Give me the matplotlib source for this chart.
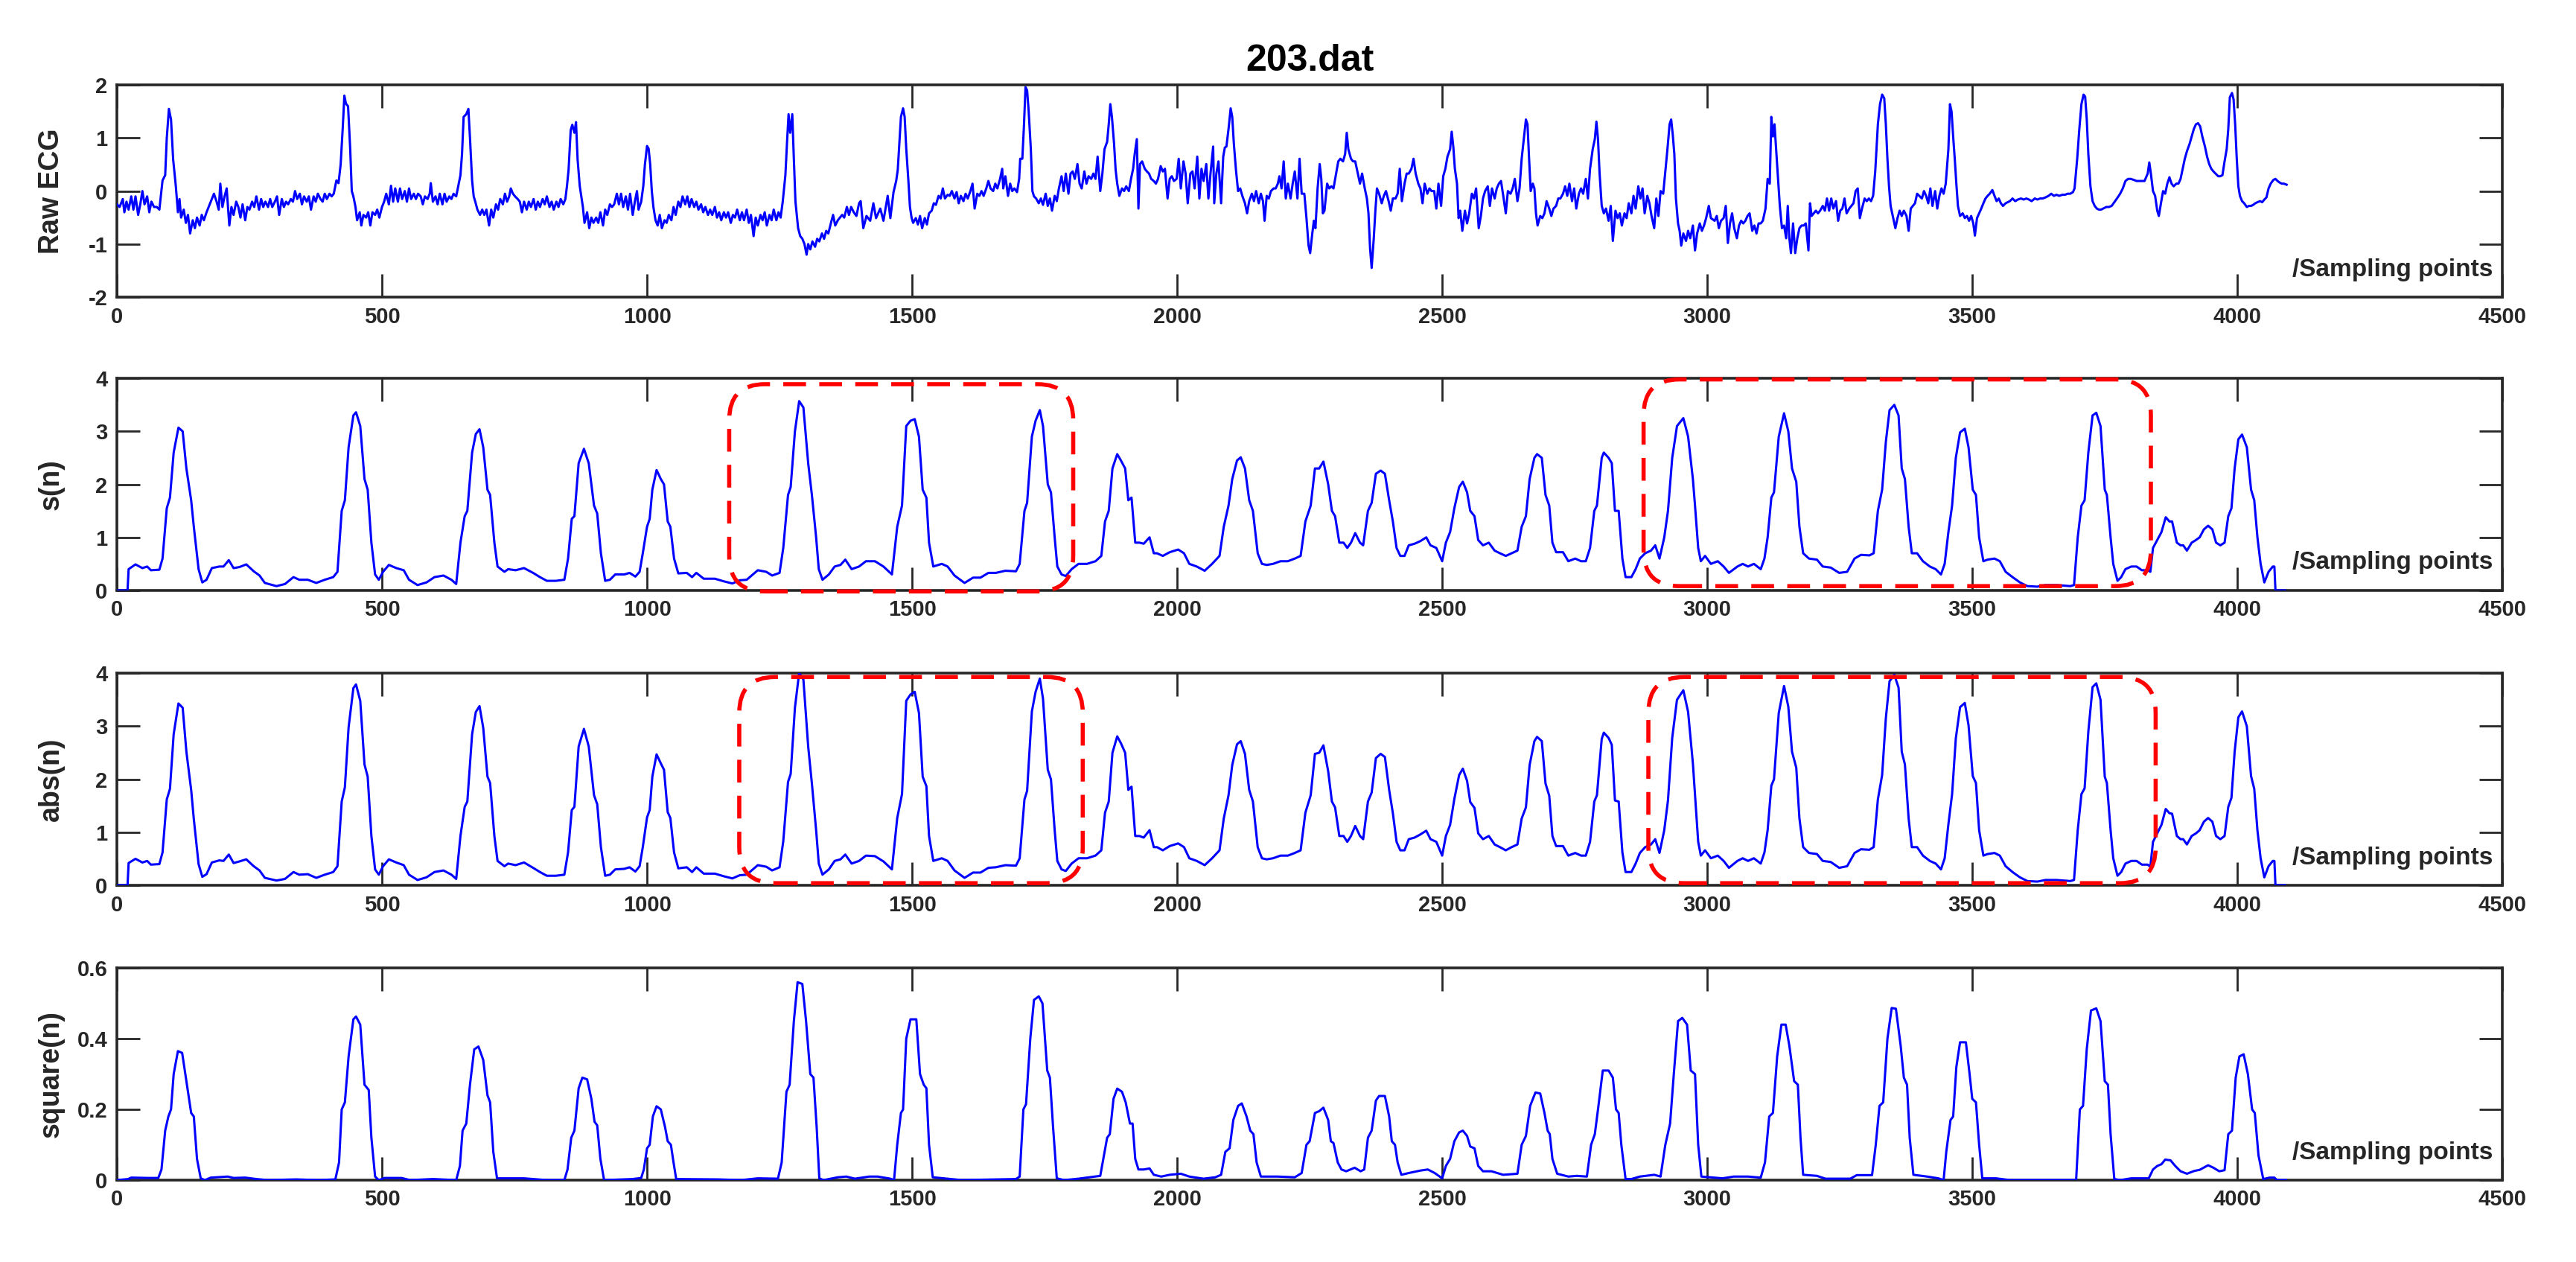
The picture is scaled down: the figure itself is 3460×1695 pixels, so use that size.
import numpy as np
import matplotlib
matplotlib.use('Agg')
import matplotlib.pyplot as plt
from matplotlib.patches import FancyBboxPatch

plt.rcParams['font.family'] = ['Liberation Sans', 'DejaVu Sans']
plt.rcParams['font.weight'] = 'bold'
plt.rcParams['axes.unicode_minus'] = False

# ---- data: (sample index, value) ----
raw_ecg = [
    (0, -.25), (5, -.30), (11, -.15), (14, -.40), (18, -.20), (22, -.35), (27, -.10), (31, -.35), (35, -.10), (40, -.45),
    (44, -.25), (48, 0.0), (52, -.25), (57, -.10), (61, -.40), (65, -.20), (70, -.30), (75, -.30), (80, -.35), (86, .20),
    (91, .30), (94, 1.0), (98, 1.55), (102, 1.35), (106, .60), (111, .10), (115, -.40), (118, -.15), (121, -.50), (126, -.35),
    (130, -.60), (134, -.45), (138, -.80), (143, -.55), (147, -.70), (151, -.50), (156, -.65), (160, -.45), (164, -.55), (169, -.40),
    (173, -.30), (177, -.20), (183, -.05), (188, -.20), (192, -.35), (195, .14), (199, -.30), (203, -.10), (207, .05), (212, -.65),
    (216, -.30), (220, -.45), (225, -.20), (229, -.30), (233, -.50), (237, -.25), (242, -.55), (246, -.30), (250, -.35), (255, -.20),
    (259, -.30), (263, -.10), (268, -.35), (272, -.15), (276, -.30), (280, -.20), (285, -.30), (289, -.15), (293, -.30), (298, -.20),
    (302, -.10), (306, -.45), (311, -.15), (315, -.30), (319, -.20), (323, -.25), (328, -.15), (332, -.20), (336, 0.0), (340, -.15),
    (345, -.05), (349, -.25), (353, -.10), (358, -.20), (362, -.10), (366, -.35), (371, -.10), (375, -.20), (379, -.05), (384, -.15),
    (388, -.20), (392, -.05), (396, -.15), (401, -.05), (405, -.10), (409, -.05), (414, .20), (418, .15), (422, .50), (426, 1.2),
    (429, 1.80), (432, 1.65), (436, 1.60), (440, .80), (443, 0.0), (446, -.10), (450, -.30), (453, -.55), (458, -.40), (461, -.65),
    (465, -.45), (470, -.50), (474, -.40), (478, -.65), (482, -.40), (487, -.45), (491, -.35), (495, -.50), (500, -.30), (504, -.20),
    (508, -.05), (513, -.25), (517, .10), (521, -.20), (525, .05), (530, -.20), (534, .05), (538, -.15), (543, 0.0), (547, -.20),
    (551, .05), (555, -.15), (560, -.05), (564, -.15), (568, -.05), (573, -.10), (577, -.25), (581, -.10), (586, -.15), (590, -.05),
    (592, .15), (596, -.20), (601, -.10), (605, -.25), (609, -.05), (614, -.25), (618, -.05), (622, -.20), (627, -.10), (631, -.15),
    (635, -.05), (640, -.10), (644, .10), (648, .30), (651, .70), (654, 1.40), (659, 1.45), (663, 1.55), (666, 1.0), (670, .20),
    (673, -.10), (676, -.20), (680, -.35), (685, -.45), (689, -.35), (693, -.45), (697, -.35), (702, -.65), (706, -.35), (710, -.50),
    (715, -.25), (719, -.35), (723, -.15), (728, -.25), (732, -.05), (736, -.20), (740, -.10), (743, .05), (747, -.05), (751, -.10),
    (756, -.15), (760, -.20), (764, -.40), (768, -.20), (773, -.35), (777, -.20), (781, -.30), (786, -.15), (790, -.35), (794, -.20),
    (798, -.30), (803, -.15), (807, -.25), (811, -.10), (816, -.30), (820, -.20), (824, -.35), (829, -.20), (833, -.30), (837, -.15),
    (842, -.25), (846, -.15), (849, .10), (852, .40), (856, 1.15), (859, 1.25), (863, 1.10), (866, 1.30), (869, .60), (873, .10),
    (876, -.10), (879, -.30), (882, -.60), (887, -.40), (891, -.70), (895, -.50), (899, -.60), (904, -.50), (908, -.60), (912, -.40),
    (917, -.65), (921, -.35), (925, -.45), (930, -.25), (934, -.30), (938, -.25), (943, -.05), (947, -.25), (951, -.05), (955, -.30),
    (960, -.10), (964, -.35), (968, -.05), (973, -.45), (977, -.20), (981, 0.0), (984, -.35), (989, -.20), (993, .10), (996, .50),
    (1000, .85), (1003, .80), (1006, .50), (1009, 0.0), (1012, -.30), (1016, -.55), (1020, -.65), (1024, -.45), (1028, -.70), (1033, -.55),
    (1037, -.60), (1041, -.45), (1046, -.55), (1050, -.30), (1054, -.45), (1059, -.20), (1063, -.30), (1067, -.10), (1072, -.25), (1076, -.10),
    (1080, -.30), (1084, -.15), (1089, -.30), (1093, -.20), (1097, -.35), (1102, -.25), (1106, -.40), (1110, -.30), (1115, -.45), (1119, -.35),
    (1123, -.45), (1128, -.30), (1132, -.50), (1136, -.40), (1140, -.55), (1145, -.40), (1149, -.50), (1153, -.40), (1158, -.60), (1162, -.45),
    (1166, -.50), (1170, -.35), (1175, -.55), (1179, -.40), (1183, -.55), (1188, -.35), (1192, -.60), (1196, -.45), (1201, -.85), (1205, -.50),
    (1209, -.65), (1214, -.45), (1218, -.55), (1222, -.40), (1226, -.65), (1231, -.45), (1235, -.55), (1239, -.35), (1244, -.55), (1248, -.40),
    (1252, -.50), (1256, -.20), (1261, .30), (1264, .90), (1267, 1.45), (1270, 1.10), (1274, 1.45), (1277, .60), (1280, -.20), (1285, -.70),
    (1289, -.85), (1293, -.90), (1297, -1.0), (1301, -1.20), (1304, -1.0), (1308, -1.10), (1312, -.95), (1317, -1.05), (1321, -.90), (1325, -.95),
    (1330, -.80), (1334, -.90), (1338, -.75), (1342, -.80), (1347, -.60), (1351, -.45), (1355, -.65), (1360, -.55), (1364, -.50), (1368, -.45),
    (1372, -.50), (1377, -.30), (1381, -.45), (1385, -.30), (1390, -.40), (1395, -.47), (1400, -.23), (1403, -.19), (1408, -.70), (1414, -.47),
    (1421, -.56), (1427, -.23), (1432, -.51), (1440, -.33), (1446, -.56), (1454, -.09), (1459, -.51), (1465, -.02), (1470, .19), (1473, .40),
    (1479, 1.40), (1483, 1.56), (1486, 1.40), (1489, .80), (1493, .20), (1496, -.30), (1499, -.50), (1502, -.60), (1507, -.51), (1511, -.63),
    (1515, -.47), (1519, -.70), (1524, -.51), (1528, -.63), (1532, -.42), (1537, -.37), (1541, -.23), (1545, -.26), (1550, -.09), (1554, -.14),
    (1558, .05), (1562, -.14), (1567, -.07), (1571, -.09), (1575, 0.0), (1580, -.14), (1584, -.02), (1588, -.23), (1592, -.09), (1597, -.19),
    (1601, -.05), (1605, -.14), (1610, 0.0), (1614, .14), (1618, -.33), (1623, -.05), (1627, -.09), (1631, 0.0), (1635, -.09), (1640, .05),
    (1644, .19), (1648, .05), (1653, 0.0), (1657, .14), (1661, .05), (1666, .23), (1670, .42), (1672, .05), (1676, .28), (1681, -.09),
    (1685, .14), (1689, 0.0), (1693, .05), (1698, -.02), (1702, .23), (1704, .61), (1708, .61), (1711, 1.22), (1714, 1.96), (1717, 1.90),
    (1720, 1.50), (1724, .80), (1727, 0.0), (1730, -.10), (1734, -.14), (1739, -.23), (1743, -.14), (1747, -.26), (1752, -.05), (1756, -.28),
    (1760, -.14), (1764, -.37), (1769, -.09), (1773, -.19), (1777, .05), (1782, .28), (1786, 0.0), (1790, .33), (1795, -.05), (1799, .33),
    (1803, .37), (1807, .23), (1812, .51), (1816, .14), (1820, .05), (1825, .37), (1829, .14), (1833, .28), (1838, .23), (1842, .33),
    (1846, .23), (1850, .65), (1855, 0.0), (1859, .33), (1863, .79), (1868, .93), (1871, 1.26), (1874, 1.64), (1877, 1.40), (1881, .90),
    (1884, .40), (1887, .14), (1891, -.09), (1896, .05), (1900, 0.0), (1904, .09), (1909, 0.0), (1913, .23), (1917, .42), (1920, .70),
    (1924, .98), (1927, -.33), (1930, .51), (1934, .56), (1939, .42), (1943, .37), (1947, .33), (1951, .23), (1956, .19), (1960, .14),
    (1964, .23), (1969, .47), (1973, .37), (1977, .42), (1982, -.14), (1986, .23), (1990, .28), (1994, .19), (1999, .23), (2003, .61),
    (2007, .05), (2012, .56), (2016, .33), (2020, -.23), (2025, .33), (2029, .37), (2033, .05), (2038, .65), (2042, -.14), (2046, .42),
    (2050, .19), (2055, .51), (2059, -.14), (2063, .33), (2068, .84), (2070, -.23), (2074, .33), (2078, .56), (2083, -.23), (2087, .65),
    (2090, .82), (2093, .84), (2097, 1.17), (2101, 1.56), (2104, 1.40), (2107, .90), (2111, .40), (2115, 0.0), (2119, .05), (2123, -.09),
    (2128, -.23), (2132, -.42), (2136, -.19), (2141, -.05), (2145, -.19), (2149, 0.0), (2154, -.23), (2158, -.05), (2162, -.19), (2165, -.56),
    (2169, -.09), (2173, -.14), (2177, 0.0), (2182, .05), (2186, .05), (2190, .14), (2193, .28), (2197, .05), (2201, .56), (2205, -.14),
    (2209, .14), (2214, -.14), (2218, .14), (2222, .37), (2227, -.14), (2231, .61), (2235, -.05), (2240, -.05), (2244, -.51), (2248, -1.03),
    (2251, -1.17), (2255, -.80), (2258, -.56), (2261, -.70), (2265, .05), (2269, .51), (2272, .23), (2275, -.42), (2278, -.37), (2283, .14),
    (2287, .05), (2291, .09), (2295, .05), (2300, .33), (2304, .56), (2308, .61), (2313, .56), (2317, .70), (2320, 1.10), (2323, .79),
    (2328, .61), (2332, .56), (2336, .56), (2341, .33), (2345, .14), (2349, .33), (2354, .05), (2358, -.14), (2361, -.42), (2364, -1.08),
    (2367, -1.45), (2371, -.89), (2374, -.37), (2377, .05), (2381, -.05), (2386, -.23), (2390, -.09), (2394, 0.0), (2399, -.19), (2403, -.37),
    (2407, -.14), (2412, -.14), (2416, -.05), (2420, .42), (2424, -.19), (2429, .14), (2433, .33), (2437, .33), (2442, .42), (2446, .61),
    (2450, .33), (2455, .14), (2459, .05), (2463, -.23), (2467, .14), (2472, -.05), (2476, .05), (2480, 0.0), (2485, 0.0), (2489, -.33),
    (2493, .14), (2498, -.28), (2502, .28), (2506, .42), (2510, .65), (2515, .79), (2518, 1.12), (2521, .84), (2524, .42), (2528, .14),
    (2531, -.51), (2534, -.37), (2538, -.75), (2543, -.37), (2547, -.61), (2551, -.42), (2556, -.05), (2560, -.14), (2564, .05), (2569, -.70),
    (2573, -.47), (2577, -.14), (2581, 0.0), (2586, .09), (2590, -.28), (2594, .05), (2599, -.14), (2603, .05), (2607, .14), (2611, .19),
    (2616, -.14), (2620, -.42), (2624, 0.0), (2629, -.05), (2633, .05), (2637, .23), (2642, -.19), (2646, .05), (2650, .61), (2654, .98),
    (2658, 1.35), (2661, 1.26), (2664, .61), (2667, 0.0), (2671, .14), (2674, .05), (2677, -.42), (2680, -.65), (2685, -.47), (2689, -.51),
    (2693, -.42), (2697, -.19), (2702, -.33), (2706, -.47), (2710, -.33), (2715, -.28), (2719, -.14), (2723, -.14), (2728, -.05), (2732, .09),
    (2736, -.09), (2740, .14), (2745, -.19), (2749, .05), (2753, -.33), (2758, -.05), (2762, .05), (2766, -.05), (2771, .23), (2775, -.14),
    (2779, .42), (2784, .79), (2788, .98), (2791, 1.31), (2794, .98), (2797, .33), (2801, -.28), (2805, -.42), (2809, -.33), (2814, -.56),
    (2818, -.28), (2822, -.94), (2827, -.37), (2831, -.51), (2835, -.42), (2839, -.65), (2844, -.42), (2848, -.51), (2852, -.23), (2857, -.42),
    (2861, -.09), (2865, -.33), (2870, .09), (2874, -.14), (2878, .05), (2882, -.42), (2887, -.09), (2891, -.23), (2895, -.47), (2900, -.70),
    (2904, -.14), (2908, -.47), (2912, 0.0), (2917, -.05), (2921, .37), (2925, .79), (2929, 1.26), (2932, 1.35), (2935, 1.07), (2938, .70),
    (2941, -.14), (2945, -.61), (2948, -.75), (2951, -1.03), (2955, -.80), (2960, -.94), (2964, -.75), (2968, -.89), (2973, -.65), (2977, -1.12),
    (2981, -.80), (2986, -.61), (2990, -.75), (2994, -.65), (2998, -.51), (3003, -.28), (3007, -.51), (3014, -.56), (3018, -.47), (3022, -.70),
    (3026, -.56), (3031, -.51), (3035, -.28), (3039, -.98), (3043, -.61), (3047, -.42), (3051, -.70), (3056, -.89), (3060, -.65), (3064, -.56),
    (3068, -.61), (3072, -.56), (3076, -.47), (3080, -.42), (3085, -.75), (3089, -.65), (3093, -.80), (3097, -.61), (3101, -.61), (3105, -.56),
    (3110, -.33), (3114, .23), (3118, .14), (3121, 1.40), (3124, 1.03), (3127, 1.26), (3130, .79), (3133, .33), (3137, -.28), (3141, -.70),
    (3145, -.65), (3149, -.89), (3152, -.28), (3155, -.89), (3158, -1.17), (3162, -.61), (3166, -1.17), (3170, -.89), (3174, -.70), (3178, -.65),
    (3182, -.65), (3186, -.61), (3191, -1.12), (3194, -.23), (3197, -.47), (3201, -.42), (3205, -.37), (3209, -.42), (3213, -.37), (3218, -.28),
    (3222, -.37), (3226, -.14), (3230, -.37), (3234, -.14), (3238, -.33), (3243, -.19), (3247, -.56), (3251, -.37), (3255, -.33), (3259, -.14),
    (3263, -.42), (3268, -.33), (3272, -.28), (3276, -.23), (3280, 0.0), (3284, .05), (3288, -.51), (3292, -.33), (3297, -.14), (3301, -.19),
    (3305, -.14), (3309, -.19), (3313, -.09), (3317, .37), (3322, 1.26), (3326, 1.64), (3330, 1.82), (3334, 1.75), (3337, 1.26), (3340, .61),
    (3343, .09), (3346, -.28), (3351, -.51), (3355, -.70), (3359, -.51), (3363, -.37), (3367, -.47), (3371, -.37), (3376, -.47), (3380, -.75),
    (3384, -.33), (3388, -.28), (3392, -.23), (3396, -.05), (3400, -.09), (3405, -.14), (3409, 0.0), (3413, -.09), (3417, -.23), (3421, .05),
    (3425, -.28), (3430, 0.0), (3434, -.33), (3438, -.09), (3442, .05), (3446, -.05), (3450, .14), (3455, .79), (3458, 1.64), (3461, 1.50),
    (3464, 1.03), (3467, .61), (3470, .14), (3473, -.28), (3477, -.47), (3482, -.42), (3486, -.51), (3490, -.47), (3494, -.56), (3498, -.47),
    (3502, -.61), (3505, -.84), (3509, -.51), (3513, -.42), (3517, -.33), (3521, -.23), (3525, -.14), (3529, -.09), (3533, -.05), (3538, .02),
    (3542, -.09), (3546, -.19), (3550, -.14), (3554, -.23), (3558, -.28), (3563, -.23), (3567, -.21), (3571, -.19), (3576, -.14), (3581, -.19),
    (3586, -.16), (3592, -.14), (3597, -.16), (3602, -.14), (3607, -.16), (3612, -.19), (3618, -.14), (3623, -.16), (3628, -.14), (3633, -.14),
    (3638, -.12), (3644, -.09), (3649, -.05), (3654, -.09), (3659, -.07), (3664, -.09), (3670, -.07), (3675, -.07), (3680, -.05), (3685, -.05),
    (3690, -.02), (3693, .05), (3698, .61), (3702, 1.17), (3706, 1.64), (3710, 1.82), (3713, 1.78), (3716, 1.36), (3719, .70), (3723, .09),
    (3727, -.19), (3731, -.28), (3735, -.33), (3739, -.35), (3743, -.35), (3747, -.33), (3753, -.30), (3758, -.30), (3763, -.28), (3768, -.21),
    (3773, -.14), (3779, -.05), (3784, .05), (3789, .19), (3794, .23), (3799, .23), (3805, .21), (3810, .19), (3815, .19), (3820, .19),
    (3825, .19), (3831, .33), (3834, .54), (3837, .33), (3841, 0.0), (3845, -.09), (3849, -.37), (3852, -.47), (3856, -.23), (3860, 0.0),
    (3864, -.05), (3868, .14), (3872, .26), (3876, .14), (3880, .09), (3885, .14), (3889, .14), (3893, .23), (3897, .42), (3901, .61),
    (3905, .75), (3910, .89), (3914, 1.03), (3918, 1.17), (3922, 1.26), (3926, 1.28), (3930, 1.22), (3934, 1.03), (3939, .84), (3943, .65),
    (3947, .51), (3951, .42), (3955, .37), (3959, .33), (3964, .28), (3968, .28), (3972, .30), (3976, .56), (3980, .79), (3983, 1.17),
    (3986, 1.77), (3990, 1.85), (3993, 1.73), (3996, 1.26), (3999, .61), (4002, .09), (4005, -.09), (4009, -.19), (4013, -.23), (4018, -.30),
    (4022, -.28), (4026, -.28), (4030, -.26), (4034, -.23), (4038, -.21), (4043, -.19), (4047, -.21), (4051, -.16), (4055, -.12), (4059, .05),
    (4063, .14), (4068, .21), (4072, .23), (4076, .19), (4080, .16), (4084, .14), (4088, .14), (4093, .12),
]

s_n = [
    (0, 0), (20, 0), (22, .40), (35, .49), (48, .42), (57, .45), (64, .38), (80, .39),
    (86, .60), (94, 1.55), (100, 1.75), (107, 2.60), (116, 3.07), (124, 3.00), (131, 2.30), (140, 1.70), (145, 1.20), (154, .40),
    (161, .15), (169, .20), (179, .42), (193, .45), (201, .45), (211, .57), (220, .42), (231, .44), (244, .49), (258, .36),
    (269, .28), (279, .14), (301, .08), (317, .12), (333, .25), (344, .20), (360, .20), (376, .14), (392, .20), (408, .25),
    (416, .35), (424, 1.50), (430, 1.70), (437, 2.70), (446, 3.30), (451, 3.36), (459, 3.10), (467, 2.10), (473, 1.90), (480, .90),
    (487, .30), (494, .20), (502, .35), (513, .48), (527, .42), (541, .38), (551, .20), (567, .10), (584, .15), (599, .25),
    (616, .28), (631, .20), (640, .12),
    (648, .90), (656, 1.40), (661, 1.50), (670, 2.60), (677, 2.95), (684, 3.04), (691, 2.70), (699, 1.90), (704, 1.80), (712, .90),
    (718, .45), (731, .35), (738, .40), (752, .38), (768, .42), (785, .33), (798, .25), (811, .18), (828, .18), (844, .20),
    (851, .60), (858, 1.35), (863, 1.40), (871, 2.40), (881, 2.67), (890, 2.40), (900, 1.60), (906, 1.45), (913, .70), (921, .18),
    (930, .20), (940, .30), (957, .30), (967, .33), (978, .26), (986, .35),
    (992, .70), (1000, 1.20), (1005, 1.35), (1010, 1.90), (1018, 2.27), (1026, 2.10), (1032, 2.00), (1039, 1.30), (1044, 1.20), (1051, .60),
    (1059, .32), (1075, .33), (1085, .25), (1093, .33), (1107, .22), (1128, .22), (1145, .17), (1161, .13), (1175, .19), (1188, .20),
    (1209, .38), (1225, .35), (1236, .28), (1250, .33),
    (1257, .80), (1266, 1.80), (1271, 1.95), (1279, 3.00), (1287, 3.57), (1295, 3.45), (1304, 2.40), (1311, 1.80), (1319, 1.00), (1324, .40),
    (1331, .20), (1343, .30), (1354, .45), (1365, .48), (1374, .58), (1386, .40), (1400, .45), (1413, .55), (1430, .55), (1446, .45), (1462, .30),
    (1472, 1.20), (1481, 1.60), (1489, 3.10), (1497, 3.20), (1505, 3.23), (1513, 2.90), (1520, 1.90), (1527, 1.75), (1532, .90), (1540, .45),
    (1556, .50), (1567, .45), (1580, .28), (1599, .14), (1615, .24), (1629, .24), (1644, .33), (1658, .33), (1676, .37), (1696, .36), (1703, .50),
    (1712, 1.50), (1717, 1.65), (1726, 2.90), (1733, 3.20), (1741, 3.40), (1747, 3.10), (1756, 2.00), (1762, 1.85), (1769, 1.00), (1774, .45),
    (1782, .30), (1790, .27), (1801, .40), (1814, .50), (1830, .50), (1846, .55), (1857, .65),
    (1864, 1.30), (1871, 1.50), (1878, 2.30), (1887, 2.57), (1894, 2.45), (1902, 2.30), (1908, 1.70), (1914, 1.75), (1921, .90), (1929, .90),
    (1937, .88), (1948, 1.00), (1956, .70), (1962, .70), (1973, .65), (1986, .72), (2002, .77), (2013, .70), (2023, .50), (2037, .45),
    (2052, .37), (2066, .50), (2080, .65),
    (2088, 1.20), (2097, 1.60), (2104, 2.10), (2113, 2.45), (2120, 2.51), (2128, 2.30), (2136, 1.70), (2143, 1.50), (2152, .70), (2160, .50),
    (2169, .48), (2181, .50), (2195, .55), (2209, .55), (2222, .60), (2233, .65),
    (2242, 1.30), (2252, 1.60), (2260, 2.30), (2268, 2.30), (2276, 2.43), (2285, 2.00), (2292, 1.50), (2298, 1.40), (2306, .90), (2314, .90),
    (2321, .80), (2328, .90), (2336, 1.08), (2345, .90), (2351, .85),
    (2360, 1.50), (2367, 1.65), (2375, 2.20), (2384, 2.26), (2392, 2.20), (2400, 1.70), (2407, 1.30), (2414, .80), (2421, .65), (2429, .65),
    (2437, .85), (2448, .88), (2459, .93), (2470, 1.00), (2478, .85), (2489, .80), (2500, .55),
    (2507, .90), (2515, 1.10), (2523, 1.55), (2532, 1.95), (2539, 2.05), (2547, 1.85), (2553, 1.50), (2561, 1.40), (2568, .95), (2577, .85),
    (2588, .90), (2599, .75), (2609, .70), (2620, .65), (2631, .70), (2642, .75),
    (2650, 1.20), (2658, 1.40), (2665, 2.10), (2674, 2.50), (2679, 2.57), (2688, 2.50), (2695, 1.80), (2702, 1.60), (2708, .90), (2715, .72),
    (2728, .72), (2738, .55), (2751, .60), (2762, .55), (2771, .55),
    (2779, .80), (2787, 1.50), (2792, 1.60), (2801, 2.50), (2805, 2.60), (2814, 2.50), (2820, 2.40), (2826, 1.50), (2833, 1.50), (2840, .60),
    (2846, .25), (2857, .25), (2865, .40), (2873, .60), (2883, .70), (2894, .75), (2902, .85), (2910, .60),
    (2919, 1.00), (2926, 1.50), (2934, 2.50), (2943, 3.10), (2955, 3.25), (2964, 2.90), (2973, 2.10), (2977, 1.60), (2983, .80), (2988, .55),
    (2996, .65), (3007, .50), (3020, .55), (3031, .45), (3041, .33), (3057, .45), (3067, .50), (3077, .45), (3088, .50), (3101, .40),
    (3108, .60), (3114, 1.00), (3121, 1.75), (3126, 1.85), (3135, 2.90), (3145, 3.34), (3153, 3.00), (3160, 2.30), (3168, 2.05), (3174, 1.20),
    (3181, .70), (3192, .60), (3207, .58), (3218, .45), (3233, .43), (3249, .33), (3264, .35), (3278, .60), (3290, .67), (3306, .66), (3314, .70),
    (3322, 1.50), (3330, 1.90), (3337, 2.80), (3344, 3.40), (3353, 3.50), (3361, 3.30), (3367, 2.30), (3373, 2.10), (3380, 1.20), (3386, .70),
    (3396, .70), (3407, .55), (3420, .45), (3431, .40), (3441, .30),
    (3448, .50), (3455, 1.10), (3462, 1.60), (3469, 2.50), (3477, 2.98), (3486, 3.05), (3493, 2.70), (3501, 1.90), (3507, 1.80), (3513, 1.00),
    (3521, .55), (3529, .58), (3542, .60), (3552, .55), (3563, .35), (3576, .25), (3590, .15), (3604, .08), (3623, .07), (3638, .10),
    (3659, .10), (3685, .08), (3692, .10),
    (3699, 1.00), (3706, 1.60), (3712, 1.70), (3719, 2.60), (3727, 3.30), (3734, 3.35), (3742, 3.10), (3750, 1.90), (3754, 1.80), (3761, 1.00),
    (3766, .50), (3774, .18), (3781, .25), (3789, .40), (3800, .45), (3810, .45), (3820, .38), (3831, .38), (3836, .35),
    (3841, .80), (3849, .95), (3857, 1.10), (3865, 1.38), (3872, 1.30), (3877, 1.30), (3886, .90), (3893, .85), (3898, .85), (3905, .75),
    (3914, .90), (3922, .95), (3929, 1.00), (3937, 1.15), (3945, 1.22), (3953, 1.15), (3960, .90), (3968, .85), (3976, .90),
    (3983, 1.40), (3989, 1.55), (3995, 2.30), (4002, 2.85), (4009, 2.94), (4018, 2.70), (4026, 1.90), (4032, 1.70), (4038, 1.00), (4044, .50),
    (4051, .15), (4059, .35), (4067, .45), (4070, .45), (4072, 0), (4090, 0),
]

abs_n = [
    (0, 0), (20, 0), (22, .42), (35, .50), (48, .43), (57, .46), (64, .39), (80, .40),
    (86, .62), (94, 1.62), (100, 1.82), (107, 2.85), (116, 3.43), (124, 3.35), (131, 2.52), (140, 1.80), (145, 1.25), (154, .40),
    (161, .16), (169, .21), (179, .43), (193, .47), (201, .46), (211, .58), (220, .42), (231, .45), (244, .49), (258, .36),
    (269, .28), (279, .14), (301, .09), (317, .12), (333, .25), (344, .20), (360, .21), (376, .14), (392, .20), (408, .25),
    (416, .36), (424, 1.58), (430, 1.85), (437, 2.98), (446, 3.72), (451, 3.79), (459, 3.48), (467, 2.28), (473, 2.05), (480, .93),
    (487, .30), (494, .20), (502, .36), (513, .49), (527, .43), (541, .38), (551, .20), (567, .10), (584, .15), (599, .25),
    (616, .28), (631, .20), (640, .12),
    (648, .93), (656, 1.48), (661, 1.58), (670, 2.85), (677, 3.27), (684, 3.38), (691, 2.97), (699, 2.05), (704, 1.93), (712, .93),
    (718, .46), (731, .36), (738, .41), (752, .38), (768, .43), (785, .33), (798, .25), (811, .18), (828, .18), (844, .20),
    (851, .62), (858, 1.42), (863, 1.48), (871, 2.62), (881, 2.95), (890, 2.62), (900, 1.70), (906, 1.53), (913, .72), (921, .18),
    (930, .20), (940, .30), (957, .31), (967, .34), (978, .26), (986, .36),
    (992, .72), (1000, 1.28), (1005, 1.42), (1010, 2.05), (1018, 2.47), (1026, 2.30), (1032, 2.18), (1039, 1.38), (1044, 1.27), (1051, .62),
    (1059, .32), (1075, .34), (1085, .25), (1093, .34), (1107, .22), (1128, .22), (1145, .17), (1161, .13), (1175, .19), (1188, .20),
    (1209, .38), (1225, .35), (1236, .28), (1250, .34),
    (1257, .83), (1266, 1.95), (1271, 2.10), (1279, 3.35), (1287, 4.01), (1295, 3.88), (1304, 2.62), (1311, 1.92), (1319, 1.04), (1324, .41),
    (1331, .20), (1343, .30), (1354, .46), (1365, .49), (1374, .58), (1386, .41), (1400, .46), (1413, .56), (1430, .55), (1446, .45), (1462, .30),
    (1472, 1.27), (1481, 1.72), (1489, 3.48), (1497, 3.60), (1505, 3.65), (1513, 3.25), (1520, 2.05), (1527, 1.87), (1532, .93), (1540, .46),
    (1556, .51), (1567, .46), (1580, .28), (1599, .14), (1615, .24), (1629, .24), (1644, .33), (1658, .34), (1676, .38), (1696, .37), (1703, .51),
    (1712, 1.62), (1717, 1.78), (1726, 3.28), (1733, 3.65), (1741, 3.90), (1747, 3.52), (1756, 2.18), (1762, 2.00), (1769, 1.04), (1774, .46),
    (1782, .30), (1790, .27), (1801, .41), (1814, .51), (1830, .51), (1846, .56), (1857, .66),
    (1864, 1.37), (1871, 1.58), (1878, 2.50), (1887, 2.81), (1894, 2.68), (1902, 2.50), (1908, 1.80), (1914, 1.86), (1921, .93), (1929, .93),
    (1937, .90), (1948, 1.04), (1956, .72), (1962, .72), (1973, .66), (1986, .74), (2002, .79), (2013, .72), (2023, .51), (2037, .46),
    (2052, .38), (2066, .51), (2080, .66),
    (2088, 1.26), (2097, 1.70), (2104, 2.27), (2113, 2.66), (2120, 2.72), (2128, 2.48), (2136, 1.80), (2143, 1.58), (2152, .72), (2160, .51),
    (2169, .49), (2181, .51), (2195, .56), (2209, .56), (2222, .61), (2233, .66),
    (2242, 1.37), (2252, 1.70), (2260, 2.48), (2268, 2.50), (2276, 2.64), (2285, 2.15), (2292, 1.58), (2298, 1.47), (2306, .93), (2314, .93),
    (2321, .82), (2328, .93), (2336, 1.12), (2345, .93), (2351, .87),
    (2360, 1.58), (2367, 1.75), (2375, 2.40), (2384, 2.48), (2392, 2.42), (2400, 1.80), (2407, 1.36), (2414, .82), (2421, .66), (2429, .66),
    (2437, .87), (2448, .90), (2459, .96), (2470, 1.03), (2478, .87), (2489, .82), (2500, .56),
    (2507, .93), (2515, 1.14), (2523, 1.63), (2532, 2.08), (2539, 2.20), (2547, 1.97), (2553, 1.57), (2561, 1.46), (2568, .98), (2577, .87),
    (2588, .93), (2599, .77), (2609, .72), (2620, .66), (2631, .72), (2642, .77),
    (2650, 1.26), (2658, 1.47), (2665, 2.27), (2674, 2.72), (2679, 2.80), (2688, 2.72), (2695, 1.92), (2702, 1.69), (2708, .93), (2715, .74),
    (2728, .74), (2738, .56), (2751, .61), (2762, .56), (2771, .56),
    (2779, .82), (2787, 1.58), (2792, 1.70), (2801, 2.76), (2805, 2.88), (2814, 2.78), (2820, 2.65), (2826, 1.60), (2833, 1.58), (2840, .62),
    (2846, .25), (2857, .25), (2865, .41), (2873, .61), (2883, .72), (2894, .77), (2902, .87), (2910, .61),
    (2919, 1.04), (2926, 1.60), (2934, 2.78), (2943, 3.50), (2955, 3.68), (2964, 3.27), (2973, 2.30), (2977, 1.70), (2983, .82), (2988, .56),
    (2996, .66), (3007, .51), (3020, .56), (3031, .46), (3041, .33), (3057, .46), (3067, .51), (3077, .46), (3088, .51), (3101, .41),
    (3108, .62), (3114, 1.04), (3121, 1.88), (3126, 2.00), (3135, 3.25), (3145, 3.76), (3153, 3.37), (3160, 2.52), (3168, 2.22), (3174, 1.26),
    (3181, .72), (3192, .61), (3207, .59), (3218, .46), (3233, .44), (3249, .33), (3264, .36), (3278, .61), (3290, .68), (3306, .67), (3314, .72),
    (3322, 1.62), (3330, 2.08), (3337, 3.15), (3344, 3.85), (3353, 3.97), (3361, 3.73), (3367, 2.52), (3373, 2.28), (3380, 1.26), (3386, .72),
    (3396, .72), (3407, .56), (3420, .46), (3431, .41), (3441, .30),
    (3448, .51), (3455, 1.15), (3462, 1.72), (3469, 2.77), (3477, 3.36), (3486, 3.44), (3493, 3.02), (3501, 2.06), (3507, 1.93), (3513, 1.04),
    (3521, .56), (3529, .59), (3542, .61), (3552, .56), (3563, .36), (3576, .25), (3590, .15), (3604, .08), (3623, .07), (3638, .10),
    (3659, .10), (3685, .08), (3692, .10),
    (3699, 1.04), (3706, 1.72), (3712, 1.83), (3719, 2.90), (3727, 3.74), (3734, 3.81), (3742, 3.50), (3750, 2.05), (3754, 1.93), (3761, 1.04),
    (3766, .51), (3774, .18), (3781, .25), (3789, .41), (3800, .46), (3810, .46), (3820, .39), (3831, .39), (3836, .35),
    (3841, .82), (3849, .98), (3857, 1.14), (3865, 1.44), (3872, 1.36), (3877, 1.35), (3886, .93), (3893, .87), (3898, .87), (3905, .77),
    (3914, .93), (3922, .98), (3929, 1.04), (3937, 1.20), (3945, 1.27), (3953, 1.20), (3960, .93), (3968, .87), (3976, .93),
    (3983, 1.48), (3989, 1.65), (3995, 2.52), (4002, 3.17), (4009, 3.28), (4018, 3.00), (4026, 2.06), (4032, 1.82), (4038, 1.04), (4044, .51),
    (4051, .15), (4059, .36), (4067, .46), (4070, .46), (4072, 0), (4090, 0),
]

square_n = [
    (0, 0), (21, .003), (27, .007), (59, .006), (78, .006),
    (84, .03), (91, .14), (97, .18), (102, .20), (107, .30), (115, .365), (123, .36), (131, .28), (140, .19), (145, .18), (151, .06),
    (158, .005), (166, 0), (177, .007), (209, .01), (220, .006), (242, .007), (263, .003), (285, 0), (338, .002), (381, 0), (412, .002),
    (419, .05), (424, .20), (430, .22), (437, .35), (446, .455), (451, .463), (459, .44), (467, .27), (475, .255), (480, .12),
    (487, .01), (494, 0), (505, .006), (537, .006), (553, 0), (596, .003), (640, 0),
    (647, .04), (652, .14), (659, .16), (666, .27), (674, .37), (682, .378), (691, .34), (699, .24), (704, .22), (710, .08),
    (717, .005), (768, .005), (811, 0), (844, 0),
    (850, .03), (857, .12), (863, .14), (871, .26), (878, .29), (887, .285), (895, .23), (901, .165), (906, .155), (912, .06),
    (919, 0), (973, .003), (989, .006),
    (994, .03), (1000, .09), (1005, .10), (1011, .18), (1018, .209), (1026, .20), (1034, .15), (1039, .11), (1045, .10), (1050, .05),
    (1055, .003), (1134, .002), (1177, 0), (1209, .005), (1247, .004),
    (1254, .05), (1263, .25), (1269, .27), (1277, .45), (1284, .56), (1293, .555), (1300, .45), (1308, .30), (1314, .29), (1320, .15),
    (1325, .005), (1333, 0), (1360, .008), (1376, .01), (1392, .004), (1419, .01), (1435, .01), (1459, .004), (1466, 0),
    (1472, .10), (1479, .19), (1483, .20), (1489, .40), (1497, .455), (1508, .455), (1515, .30), (1522, .27), (1527, .26), (1532, .10),
    (1539, .008), (1567, .004), (1594, 0), (1696, .003), (1703, .01),
    (1710, .20), (1715, .215), (1723, .40), (1730, .51), (1739, .52), (1746, .50), (1755, .31), (1760, .29), (1766, .15), (1773, .005),
    (1787, 0), (1814, .004), (1855, .012),
    (1862, .07), (1868, .12), (1873, .13), (1880, .23), (1887, .259), (1896, .25), (1903, .22), (1911, .16), (1916, .16), (1921, .06),
    (1927, .03), (1937, .03), (1948, .033), (1956, .015), (1970, .01), (1986, .015), (2007, .018), (2023, .01), (2050, .004), (2072, .008), (2083, .015),
    (2091, .08), (2099, .09), (2106, .17), (2115, .21), (2122, .217), (2131, .18), (2138, .14), (2144, .13), (2150, .05), (2158, .01),
    (2190, .01), (2222, .008), (2235, .02),
    (2244, .10), (2250, .11), (2260, .19), (2268, .195), (2276, .205), (2285, .17), (2290, .11), (2295, .105), (2303, .05), (2310, .03),
    (2319, .025), (2335, .035), (2346, .025), (2353, .03),
    (2360, .12), (2367, .14), (2375, .225), (2381, .238), (2392, .238), (2400, .18), (2405, .11), (2411, .10), (2416, .05), (2423, .015),
    (2437, .02), (2459, .027), (2473, .03), (2486, .02), (2500, .005),
    (2507, .04), (2515, .06), (2523, .11), (2532, .135), (2539, .14), (2547, .125), (2553, .095), (2561, .09), (2568, .04), (2577, .025),
    (2593, .025), (2615, .015), (2642, .018),
    (2650, .10), (2658, .125), (2666, .21), (2676, .248), (2685, .245), (2693, .19), (2699, .14), (2703, .13), (2708, .06), (2717, .018),
    (2738, .01), (2754, .012), (2773, .01),
    (2781, .10), (2788, .13), (2794, .20), (2803, .31), (2814, .31), (2822, .29), (2828, .20), (2833, .19), (2838, .10), (2846, .003),
    (2857, .003), (2873, .01), (2900, .015), (2912, .01),
    (2921, .10), (2930, .16), (2937, .30), (2945, .45), (2953, .459), (2962, .44), (2969, .31), (2977, .30), (2983, .10), (2989, .01),
    (3029, .005), (3050, .01), (3077, .01), (3101, .007),
    (3109, .05), (3117, .18), (3124, .19), (3132, .35), (3140, .44), (3148, .44), (3155, .38), (3164, .28), (3171, .27), (3176, .12),
    (3181, .015), (3207, .012), (3223, .004), (3270, .004), (3282, .014), (3311, .014),
    (3318, .10), (3325, .21), (3332, .22), (3340, .40), (3348, .487), (3356, .485), (3365, .38), (3371, .29), (3377, .27), (3382, .12),
    (3389, .015), (3415, .01), (3436, .005), (3446, 0),
    (3451, .08), (3459, .17), (3464, .18), (3470, .32), (3477, .39), (3488, .39), (3495, .30), (3500, .23), (3507, .22), (3513, .10),
    (3519, .005), (3545, .005), (3571, 0), (3696, 0),
    (3703, .20), (3709, .21), (3716, .37), (3724, .48), (3734, .486), (3742, .45), (3750, .28), (3756, .27), (3761, .13), (3768, .003),
    (3779, 0), (3800, .005), (3833, .005),
    (3841, .03), (3849, .04), (3857, .045), (3864, .058), (3874, .056), (3883, .04), (3893, .025), (3905, .018), (3919, .026), (3929, .029),
    (3945, .042), (3955, .035), (3966, .025), (3976, .028),
    (3983, .13), (3990, .14), (3997, .29), (4004, .35), (4012, .356), (4020, .30), (4028, .20), (4033, .19), (4040, .07), (4049, .003),
    (4061, .007), (4070, .007), (4075, 0), (4092, 0),
]

panel_labels = ['Raw ECG', 's(n)', 'abs(n)', 'square(n)']
panel_ylims = [(-2, 2), (0, 4), (0, 4), (0, 0.6)]
panel_yticks = [[-2, -1, 0, 1, 2], [0, 1, 2, 3, 4], [0, 1, 2, 3, 4], [0, 0.2, 0.4, 0.6]]
panel_yticklabels = [['-2', '-1', '0', '1', '2'], ['0', '1', '2', '3', '4'],
                     ['0', '1', '2', '3', '4'], ['0', '0.2', '0.4', '0.6']]
x_ticks = [0, 500, 1000, 1500, 2000, 2500, 3000, 3500, 4000, 4500]

# highlighted regions (x0, x1, y0, y1) in s(n) and abs(n)
boxes_s = [(1155, 1804, -0.02, 3.89), (2880, 3837, 0.08, 3.98)]
boxes_abs = [(1174, 1822, 0.04, 3.93), (2889, 3846, 0.04, 3.93)]

# ---- figure ----
W, H, DPI = 17.3, 8.475, 200
fig = plt.figure(figsize=(W, H), dpi=DPI)
dark = '#262626'
left, width = 0.0454, 0.926
bottoms = [0.7646, 0.5322, 0.2985, 0.0649]
height = 0.168

series = [raw_ecg, s_n, abs_n, square_n]
axes = []
for i in range(4):
    ax = fig.add_axes([left, bottoms[i], width, height])
    d = np.array(series[i])
    ax.plot(d[:, 0], d[:, 1], color='#0000FF', lw=1.1, zorder=3)
    ax.set_xlim(0, 4500)
    ax.set_ylim(*panel_ylims[i])
    ax.set_xticks(x_ticks)
    ax.set_xticklabels([str(t) for t in x_ticks])
    ax.set_yticks(panel_yticks[i])
    ax.set_yticklabels(panel_yticklabels[i])
    ax.tick_params(direction='in', top=True, right=True, length=11, width=1.0,
                   color=dark, labelcolor=dark, labelsize=10.5)
    ax.tick_params(axis='x', pad=4.5)
    ax.tick_params(axis='y', pad=4.5)
    for sp in ax.spines.values():
        sp.set_linewidth(1.3)
        sp.set_color(dark)
    ax.set_ylabel(panel_labels[i], fontsize=13.5, fontweight='bold', color=dark)
    ax.yaxis.set_label_coords(-0.022, 0.5)
    ax.text(0.996, 0.10, '/Sampling points', transform=ax.transAxes, ha='right',
            va='baseline', fontsize=12, fontweight='bold', color=dark)
    axes.append(ax)

axes[0].set_title('203.dat', fontsize=18, fontweight='bold', pad=7, color='black')


def add_boxes(ax, boxes, radius_px=48):
    x0, x1 = ax.get_xlim()
    y0, y1 = ax.get_ylim()
    ax_w = width * W * DPI
    ax_h = height * H * DPI
    xpp = (x1 - x0) / ax_w
    ypp = (y1 - y0) / ax_h
    for bx0, bx1, by0, by1 in boxes:
        p = FancyBboxPatch((bx0, by0), bx1 - bx0, by1 - by0,
                           boxstyle='round,pad=0,rounding_size=%f' % (radius_px * xpp),
                           mutation_aspect=ypp / xpp, fill=False, edgecolor='#FF0000',
                           lw=2.0, linestyle=(0, (5.5, 3.2)), clip_on=False, zorder=5)
        ax.add_patch(p)


add_boxes(axes[1], boxes_s)
add_boxes(axes[2], boxes_abs)

fig.savefig('out.png', dpi=DPI, facecolor='white')
